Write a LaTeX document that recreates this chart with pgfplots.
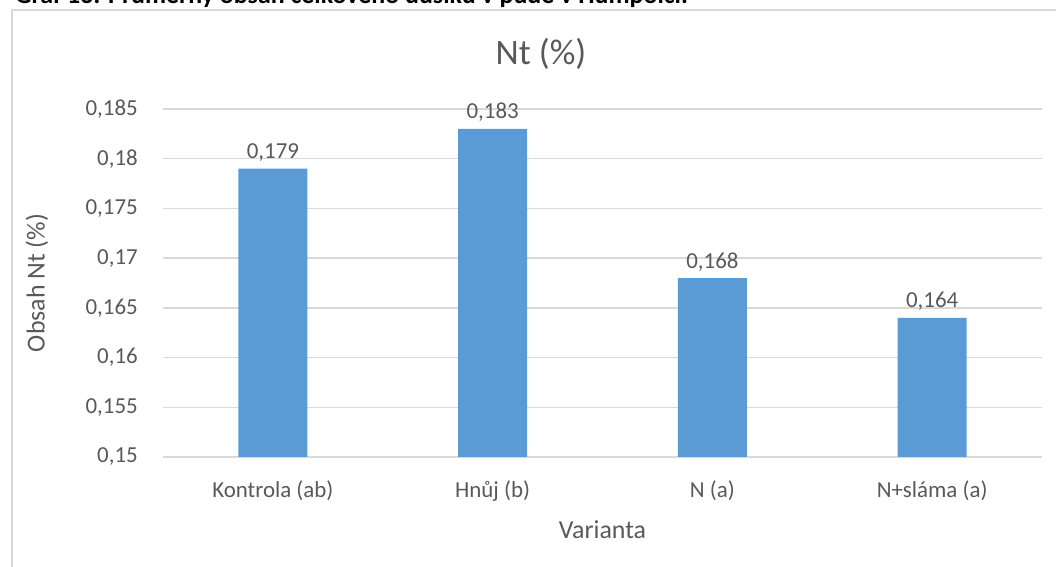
\documentclass[border=0pt]{standalone}
\usepackage{pgfplots}
\pgfplotsset{compat=1.18}
\usepackage{fontspec}
\setmainfont{Carlito}
\definecolor{barblue}{HTML}{5B9BD5}
\definecolor{txtgray}{HTML}{595959}
\definecolor{gridgray}{HTML}{D9D9D9}

\begin{document}
\begin{tikzpicture}[x=1bp,y=1bp]
\path[use as bounding box] (0,0) rectangle (1056,567);
\clip (0,0) rectangle (1056,567);
% caption of the figure above the chart frame
\node[anchor=base west, inner sep=0, font=\bfseries\fontsize{26}{30}\selectfont]
  at (15,563) {Graf 13: Průměrný obsah celkového dusíku v půdě v Humpolci.};
% chart frame
\draw[gridgray, line width=1.5bp] (12,-5) -- (12,557) -- (1070,557);
% chart title
\node[anchor=base, inner sep=0, text=txtgray, font=\fontsize{36}{40}\selectfont]
  at (541,502) {Nt (\%)};
\begin{axis}[
  at={(163bp,110bp)}, anchor=south west,
  scale only axis, width=879bp, height=348bp,
  xmin=-0.5, xmax=3.5, ymin=0.15, ymax=0.185,
  axis line style={draw=none},
  major tick length=0,
  ymajorgrids, grid style={gridgray, line width=1.5bp},
  ytick={0.15,0.155,0.16,0.165,0.17,0.175,0.18,0.185},
  yticklabels={{0,15},{0,155},{0,16},{0,165},{0,17},{0,175},{0,18},{0,185}},
  yticklabel style={anchor=east, inner sep=0, xshift=-25bp, text=txtgray,
    font=\fontsize{23}{27}\selectfont},
  xtick={0,1,2,3},
  xticklabels={Kontrola (ab),Hnůj (b),N (a),N+sláma (a)},
  xticklabel style={anchor=base, inner sep=0, yshift=-41bp, text=txtgray,
    font=\fontsize{23}{27}\selectfont},
  xlabel={Varianta},
  xlabel style={at={(rel axis cs:0.5,0)}, anchor=center, yshift=-73bp,
    text=txtgray, font=\fontsize{26}{30}\selectfont},
  ylabel={Obsah Nt (\%)},
  ylabel style={at={(rel axis cs:0,0.5)}, anchor=center, yshift=126bp,
    text=txtgray, font=\fontsize{26}{30}\selectfont},
  ybar, bar width=69bp,
  nodes near coords={\pgfmathprintnumber[fixed,use comma,precision=3,
    assume math mode=true]{\pgfplotspointmeta}},
  nodes near coords style={anchor=base, inner sep=0, yshift=10bp, text=txtgray,
    font=\fontsize{23}{27}\selectfont},
  clip=false,
]
\addplot[fill=barblue, draw=none] coordinates {
  (0,0.179) (1,0.183) (2,0.168) (3,0.164)
};
\end{axis}
\end{tikzpicture}
\end{document}
